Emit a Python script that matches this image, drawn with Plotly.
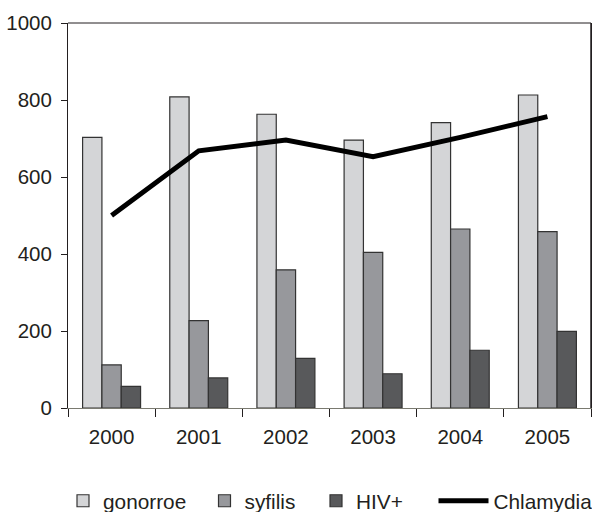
import plotly.graph_objects as go

years = ["2000", "2001", "2002", "2003", "2004", "2005"]
gonorroe = [703, 808, 763, 696, 741, 813]
syfilis = [112, 227, 359, 404, 465, 458]
hiv = [56, 78, 129, 89, 150, 199]
chlamydia = [500, 668, 696, 653, 703, 757]

y_ticks = [0, 200, 400, 600, 800, 1000]

FONT = "Liberation Sans, Arial, sans-serif"
outline = dict(color="#333333", width=1.2)

fig = go.Figure()
fig.add_trace(go.Bar(x=years, y=gonorroe, name="gonorroe", legend="legend",
                     marker=dict(color="#d4d5d7", line=outline)))
fig.add_trace(go.Bar(x=years, y=syfilis, name="syfilis", legend="legend2",
                     marker=dict(color="#97989c", line=outline)))
fig.add_trace(go.Bar(x=years, y=hiv, name="HIV+", legend="legend3",
                     marker=dict(color="#58595b", line=outline)))
fig.add_trace(go.Scatter(x=years, y=chlamydia, name="Chlamydia", mode="lines",
                         legend="legend4",
                         line=dict(color="#000000", width=5)))


def legend_box(xpx, **extra):
    # one legend entry per box, placed along the bottom row
    d = dict(orientation="h", xref="container", x=xpx / 592, xanchor="left",
             yref="container", y=0.021, yanchor="middle",
             font=dict(size=20.8, family=FONT, color="#231f20"),
             bgcolor="rgba(0,0,0,0)")
    d.update(extra)
    return d


fig.update_layout(
    width=592, height=512,
    margin=dict(l=68, r=1, t=23, b=104),
    paper_bgcolor="white", plot_bgcolor="white",
    barmode="group", bargap=0.335, bargroupgap=0,
    font=dict(family=FONT, size=20.5, color="#231f20"),
    showlegend=True,
    legend=legend_box(63),
    legend2=legend_box(204.5),
    legend3=legend_box(316),
    legend4=legend_box(433.5, itemwidth=50),
)
fig.update_xaxes(
    type="category", showline=True, linecolor="#7a7a70", linewidth=1,
    mirror=False, ticks="outside", tickson="boundaries", ticklen=8,
    tickcolor="#231f20", showgrid=False, ticklabelstandoff=10,
)
fig.update_yaxes(
    range=[0, 1000], tickvals=y_ticks, showline=True, linecolor="#231f20",
    linewidth=1, mirror=True, ticks="outside", ticklen=6, tickcolor="#231f20",
    showgrid=False, zeroline=False, ticklabelstandoff=5,
)
# frame lines along the top and right of the plotting area
fig.add_shape(type="line", xref="paper", yref="paper", x0=0, x1=1, y0=1, y1=1,
              line=dict(color="#231f20", width=1))
fig.add_shape(type="line", xref="paper", yref="paper", x0=1, x1=1, y0=0, y1=1,
              line=dict(color="#231f20", width=1.5))

fig.write_html("out.html")
